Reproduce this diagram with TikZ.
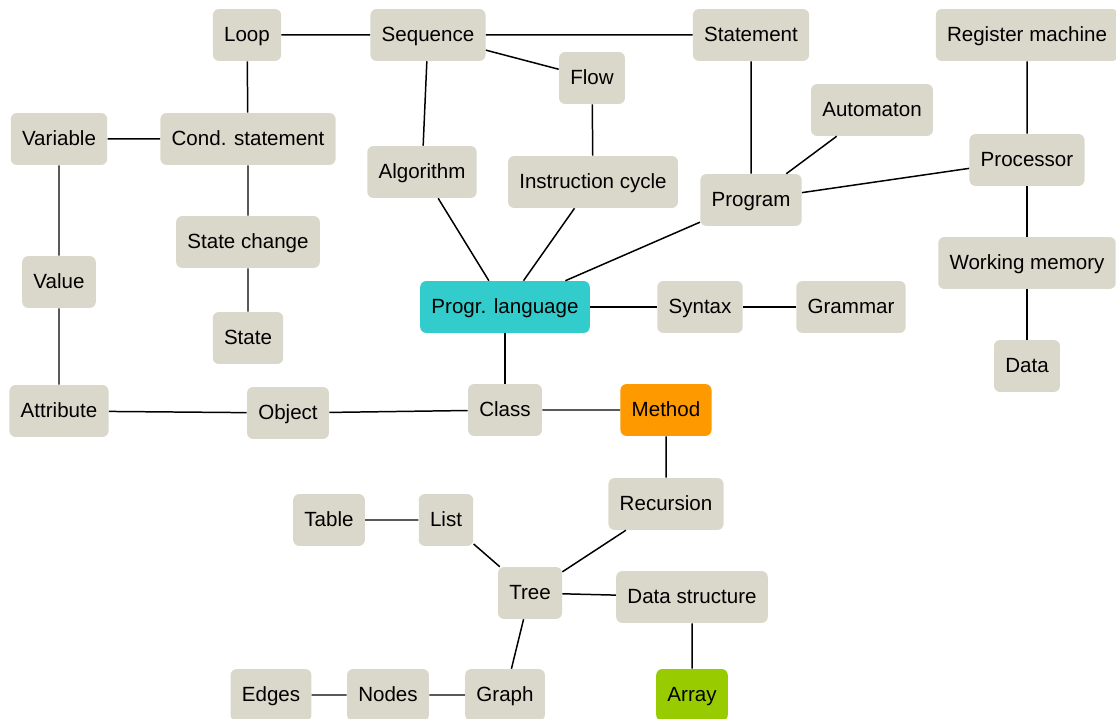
\documentclass[tikz,border=0pt]{standalone}
\usepackage{fontspec}
\setmainfont{Liberation Sans}
\usepackage{xcolor}
\usepackage{tikz}
\definecolor{boxgrey}{HTML}{DAD8CB}
\definecolor{boxcyan}{HTML}{33CCCC}
\definecolor{boxorange}{HTML}{FF9900}
\definecolor{boxgreen}{HTML}{99CC00}
\tikzset{
  term/.style={fill=boxgrey,rounded corners=3.4pt,minimum height=29.5pt,inner xsep=6.4pt,
    text height=0.72em,text depth=0pt,font=\fontsize{11.7}{13}\selectfont},
  link/.style={line width=0.85pt}
}
\begin{document}
\begin{tikzpicture}[x=0.02cm,y=-0.02cm]
\useasboundingbox (0,0) rectangle (1116,719);
\node[term](loop) at (247,35){Loop};
\node[term](seq) at (428,35){Sequence};
\node[term](stmt) at (751,35){Statement};
\node[term](regm) at (1027,35){Register machine};
\node[term](flow) at (592,78){Flow};
\node[term](auto) at (872,110){Automaton};
\node[term](var) at (59,139){Variable};
\node[term](cond) at (248,139){Cond. statement};
\node[term](proc) at (1027,160){Processor};
\node[term](algo) at (422,172){Algorithm};
\node[term](icyc) at (593,182){Instruction cycle};
\node[term](prog) at (751,200){Program};
\node[term](schg) at (248,242){State change};
\node[term](val) at (59,282){Value};
\node[term](wmem) at (1027,263){Working memory};
\node[term,fill=boxcyan](plang) at (505,307){Progr. language};
\node[term](syn) at (700,307){Syntax};
\node[term](gram) at (851,307){Grammar};
\node[term](state) at (248,338){State};
\node[term](data) at (1027,366){Data};
\node[term](attr) at (59,411){Attribute};
\node[term](obj) at (288,413){Object};
\node[term](cls) at (505,410){Class};
\node[term,fill=boxorange](meth) at (666,410){Method};
\node[term](rec) at (666,504){Recursion};
\node[term](tab) at (329,520){Table};
\node[term](list) at (446,520){List};
\node[term](tree) at (530,593){Tree};
\node[term](dstr) at (692,597){Data structure};
\node[term](edges) at (271,695){Edges};
\node[term](nodes) at (388,695){Nodes};
\node[term](graph) at (505,695){Graph};
\node[term,fill=boxgreen](arr) at (692,695){Array};
\draw[link](loop)--(seq)--(stmt)--(prog)--(auto);
\draw[link](seq)--(flow)--(icyc)--(plang);
\draw[link](loop)--(cond)--(schg)--(state);
\draw[link](seq)--(algo)--(plang)--(prog)--(proc)--(regm);
\draw[link](proc)--(wmem)--(data);
\draw[link](cond)--(var)--(val)--(attr)--(obj)--(cls)--(meth)--(rec)--(tree);
\draw[link](plang)--(cls);
\draw[link](plang)--(syn)--(gram);
\draw[link](tab)--(list)--(tree)--(dstr)--(arr);
\draw[link](tree)--(graph)--(nodes)--(edges);
\end{tikzpicture}
\end{document}
